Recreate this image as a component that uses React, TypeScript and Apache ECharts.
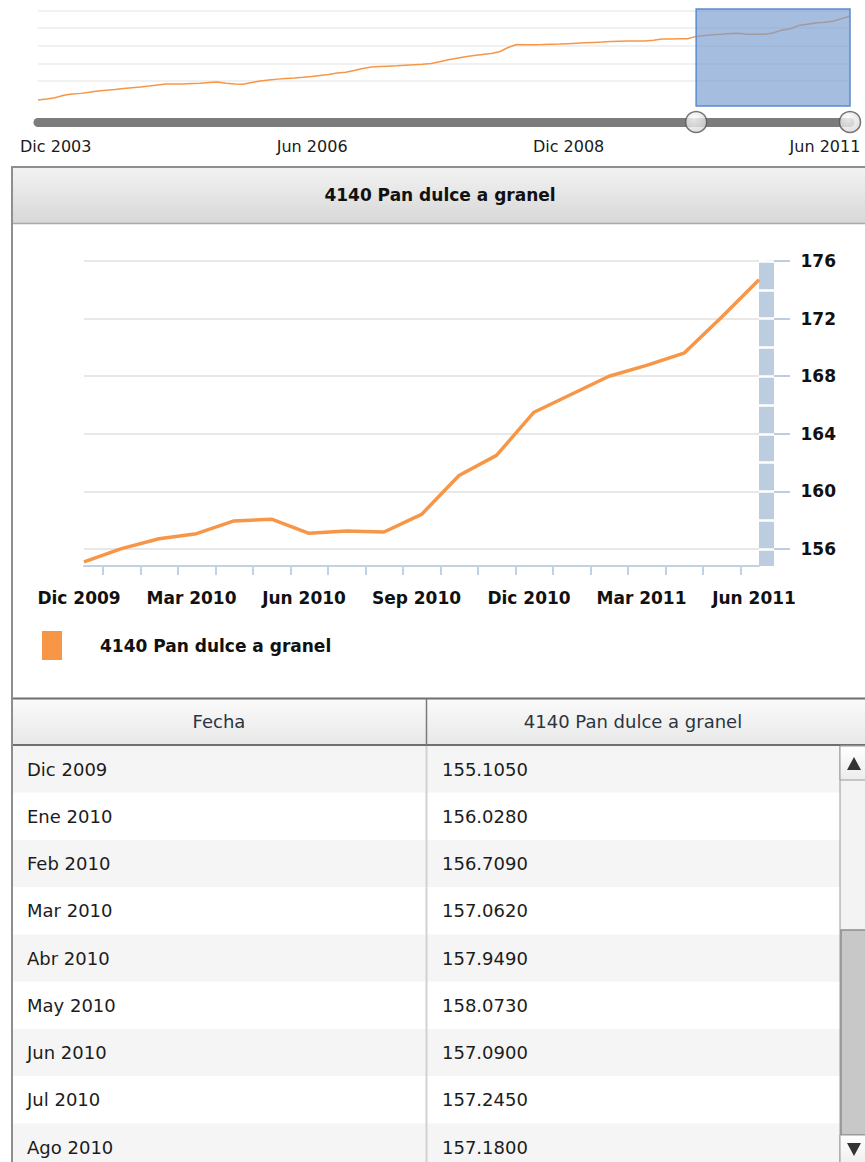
import React, { useEffect, useRef } from "react";
import * as echarts from "echarts";

const FONT = "'DejaVu Sans', Verdana, sans-serif";
const SERIES_NAME = "4140 Pan dulce a granel";
const TABLE_HEADERS = ["Fecha", "4140 Pan dulce a granel"];

// Detail chart: Dic 2009 – Jun 2011
const months = [
  "Dic 2009", "Ene 2010", "Feb 2010", "Mar 2010", "Abr 2010", "May 2010", "Jun 2010",
  "Jul 2010", "Ago 2010", "Sep 2010", "Oct 2010", "Nov 2010", "Dic 2010", "Ene 2011",
  "Feb 2011", "Mar 2011", "Abr 2011", "May 2011", "Jun 2011",
];
const values = [
  155.105, 156.028, 156.709, 157.062, 157.949, 158.073, 157.09, 157.245, 157.18,
  158.4, 161.1, 162.5, 165.5, 166.75, 168.0, 168.75, 169.6, 172.1, 174.7,
];
const yTicks = [156, 160, 164, 168, 172, 176];
const yBandTicks = [156, 158, 160, 162, 164, 166, 168, 170, 172, 174, 176];
const xLabelIdx = [0, 3, 6, 9, 12, 15, 18];

// Navigator history: Jul 2003 – Nov 2009 (continues with `values`)
const navEarly = [
  94.0, 94.9, 96.1, 98.5, 99.7, 100.3, 101.3, 102.6, 103.4, 104.0,
  104.9, 105.7, 106.4, 107.3, 108.3, 109.2, 109.3, 109.3, 109.7, 110.0,
  110.7, 111.2, 110.1, 109.2, 109.0, 110.7, 112.2, 113.2, 114.0, 114.6,
  115.1, 115.8, 116.6, 117.6, 118.5, 119.9, 120.6, 122.2, 124.3, 125.7,
  126.1, 126.5, 126.8, 127.3, 127.8, 128.3, 129.0, 130.7, 132.7, 134.1,
  135.5, 136.7, 137.7, 138.7, 140.3, 144.4, 147.3, 147.0, 147.0, 147.2,
  147.5, 147.7, 148.1, 148.5, 148.9, 149.3, 149.7, 150.2, 150.5, 150.6,
  150.6, 150.7, 151.4, 152.5, 152.7, 152.8, 152.9,
];
const navLabels = ["Dic 2003", "Jun 2006", "Dic 2008", "Jun 2011"];
const navLabelIdx = [5, 35, 65, 95];
const navGridValues = [112, 129, 146, 163, 180];
const visibleRows = 9;

export default function App() {
  const ref = useRef<HTMLDivElement>(null);

  useEffect(() => {
    if (!ref.current) return;
    const chart = echarts.init(ref.current, null, { renderer: "svg" });

    const navValues = [...navEarly, ...values];
    const navLast = navValues.length - 1;
    const selStart = navEarly.length;
    const xTickPos = months.slice(1).map((_, i) => i + 0.5);

    const grad = (a: string, b: string) => ({
      type: "linear", x: 0, y: 0, x2: 0, y2: 1,
      colorStops: [{ offset: 0, color: a }, { offset: 1, color: b }],
    });

    const rowH = 47.25;
    const bodyTop = 745.5;
    const elements: any[] = [];
    // panel header
    elements.push({ type: "rect", shape: { x: 13, y: 168, width: 870, height: 55 }, style: { fill: grad("#f2f2f2", "#d8d8d8") } });
    elements.push({ type: "line", shape: { x1: 12, y1: 223.5, x2: 870, y2: 223.5 }, style: { stroke: "#a9a9a9", lineWidth: 1.5 } });
    // table header
    elements.push({ type: "rect", shape: { x: 13, y: 698, width: 860, height: 47 }, style: { fill: grad("#fbfbfb", "#e8e8e8") } });
    // rows
    months.slice(0, visibleRows).forEach((m, r) => {
      const y0 = bodyTop + r * rowH;
      elements.push({ type: "rect", shape: { x: 13, y: y0, width: 827, height: rowH }, style: { fill: r % 2 === 0 ? "#f5f5f5" : "#ffffff" } });
      elements.push({ type: "text", x: 27, y: y0 + rowH / 2, style: { text: m, font: `18px ${FONT}`, fill: "#1c1c1c", align: "left", textAlign: "left", verticalAlign: "middle", textVerticalAlign: "middle" } });
      elements.push({ type: "text", x: 442, y: y0 + rowH / 2, style: { text: values[r].toFixed(4), font: `18px ${FONT}`, fill: "#1c1c1c", align: "left", textAlign: "left", verticalAlign: "middle", textVerticalAlign: "middle" } });
    });
    elements.push({ type: "line", shape: { x1: 12, y1: 698.5, x2: 870, y2: 698.5 }, style: { stroke: "#6f6f6f", lineWidth: 2 } });
    elements.push({ type: "line", shape: { x1: 12, y1: 745, x2: 870, y2: 745 }, style: { stroke: "#6f6f6f", lineWidth: 2 } });
    elements.push({ type: "line", shape: { x1: 426.5, y1: 699, x2: 426.5, y2: 745 }, style: { stroke: "#7a7a7a", lineWidth: 1.5 } });
    elements.push({ type: "line", shape: { x1: 426.5, y1: 746, x2: 426.5, y2: 1162 }, style: { stroke: "#d2d2d2", lineWidth: 2 } });
    TABLE_HEADERS.forEach((h, i) => {
      elements.push({ type: "text", x: i === 0 ? 219 : 633, y: 721.5, style: { text: h, font: `18px ${FONT}`, fill: "#2b3542", align: "center", textAlign: "center", verticalAlign: "middle", textVerticalAlign: "middle" } });
    });
    // scrollbar
    elements.push({ type: "rect", shape: { x: 840, y: 746, width: 30, height: 420 }, style: { fill: "#f3f3f3", stroke: "#9a9a9a", lineWidth: 1 } });
    elements.push({ type: "rect", shape: { x: 840, y: 746, width: 30, height: 34 }, style: { fill: grad("#ffffff", "#ececec"), stroke: "#9a9a9a", lineWidth: 1 } });
    elements.push({ type: "polygon", shape: { points: [[847, 770], [861, 770], [854, 757]] }, style: { fill: "#333" } });
    elements.push({ type: "rect", shape: { x: 841, y: 930, width: 30, height: 205 }, style: { fill: "#c8c8c8", stroke: "#8c8c8c", lineWidth: 1.5 } });
    elements.push({ type: "rect", shape: { x: 840, y: 1135, width: 30, height: 34 }, style: { fill: grad("#ffffff", "#ececec"), stroke: "#9a9a9a", lineWidth: 1 } });
    elements.push({ type: "polygon", shape: { points: [[847, 1143], [861, 1143], [854, 1156]] }, style: { fill: "#333" } });
    // panel border
    elements.push({ type: "rect", shape: { x: 12, y: 167, width: 880, height: 1010 }, style: { fill: "none", stroke: "#8e8e8e", lineWidth: 2 } });

    const labelBold = { fontFamily: FONT, fontWeight: "bold", fontSize: 17, color: "#111" };

    chart.setOption({
      animation: false,
      backgroundColor: "#ffffff",
      title: {
        text: SERIES_NAME, left: 440, top: 186, textAlign: "center", padding: 0,
        textStyle: labelBold,
      },
      legend: {
        data: [SERIES_NAME], left: 42, top: 631, padding: 0, itemWidth: 20, itemHeight: 29, icon: "rect",
        selectedMode: false, itemStyle: { borderWidth: 0 },
        textStyle: { ...labelBold, padding: [0, 0, 0, 33] },
      },
      graphic: { elements },
      grid: [
        { left: 38, right: 15, top: 9, height: 97, outerBoundsMode: "none" },
        { left: 38, right: 15, top: 100, height: 22, outerBoundsMode: "none" },
        { left: 84, right: 106, top: 261, height: 305, outerBoundsMode: "none" },
      ],
      xAxis: [
        { type: "value", gridIndex: 0, min: 0, max: navLast, show: false },
        {
          type: "value", gridIndex: 1, min: 0, max: navLast,
          axisLine: { show: true, onZero: false, lineStyle: { color: "#7c7c7c", width: 9, cap: "round" } },
          axisTick: { show: false, customValues: navLabelIdx },
          splitLine: { show: false },
          axisLabel: {
            customValues: navLabelIdx, margin: 16,
            formatter: (v: number) => navLabels[navLabelIdx.indexOf(Math.round(v))] ?? "",
            fontFamily: FONT, fontSize: 16, color: "#1a1a1a", padding: [0, 50, 0, 0],
          },
        },
        {
          type: "value", gridIndex: 2, min: 0, max: months.length - 1,
          axisLine: { show: true, onZero: false, lineStyle: { color: "#c3d2e2", width: 2 } },
          axisTick: { show: true, customValues: xTickPos, length: 9, lineStyle: { color: "#c3d2e2", width: 2 } },
          axisLabel: {
            customValues: xLabelIdx, margin: 23, padding: [0, 10, 0, 0],
            formatter: (v: number) => months[Math.round(v)] ?? "",
            ...labelBold,
          },
          splitLine: { show: false },
        },
      ],
      yAxis: [
        {
          type: "value", gridIndex: 0, min: 88.16, max: 181.43,
          axisLine: { show: false, onZero: false }, axisTick: { show: false, customValues: navGridValues },
          axisLabel: { show: false },
          splitLine: { show: true, lineStyle: { color: "#ececec", width: 1.5 } },
        },
        { type: "value", gridIndex: 1, min: 0, max: 1, show: false, axisLine: { onZero: false } },
        {
          type: "value", gridIndex: 2, position: "right", offset: 7.5, min: 154.82, max: 176,
          axisLine: { show: true, onZero: false, lineStyle: { color: "#bccddf", width: 15, cap: "butt" } },
          axisTick: { show: true, customValues: yTicks, length: 23.5, lineStyle: { color: "#bccddf", width: 2 } },
          axisLabel: { customValues: yTicks, margin: 34, ...labelBold },
          splitLine: { show: true, lineStyle: { color: "#e8e8e8", width: 2 } },
        },
        {
          type: "value", gridIndex: 2, position: "right", offset: 15, min: 154.82, max: 176, z: 5,
          axisLine: { show: false, onZero: false },
          axisTick: { show: true, inside: true, customValues: yBandTicks, length: 15, lineStyle: { color: "#ffffff", width: 2.5 } },
          axisLabel: { show: false },
          splitLine: { show: false },
        },
      ],
      series: [
        {
          name: "navegador", type: "line", xAxisIndex: 0, yAxisIndex: 0,
          data: navValues.map((v, i) => [i, v]), symbol: "none", silent: true,
          lineStyle: { color: "#f79646", width: 1.5 }, itemStyle: { color: "#f79646" },
          markArea: {
            silent: true, z: 5,
            itemStyle: { color: "rgba(118,156,208,0.66)", borderColor: "#5b8bd0", borderWidth: 1.5 },
            data: [[{ xAxis: selStart }, { xAxis: navLast }]],
          },
        },
        {
          name: "rango", type: "scatter", xAxisIndex: 1, yAxisIndex: 1, clip: false, silent: true,
          data: [[selStart, 0], [navLast, 0]], symbol: "circle", symbolSize: 21,
          itemStyle: {
            color: { type: "radial", x: 0.4, y: 0.35, r: 0.7, colorStops: [{ offset: 0, color: "#ffffff" }, { offset: 1, color: "#d4d4d4" }] },
            borderColor: "#555", borderWidth: 1.5,
          },
        },
        {
          name: SERIES_NAME, type: "line", xAxisIndex: 2, yAxisIndex: 2,
          data: values.map((v, i) => [i, v]), symbol: "none",
          lineStyle: { color: "#f79646", width: 3.5 }, itemStyle: { color: "#f79646" },
        },
      ],
    });

    return () => chart.dispose();
  }, []);

  return <div ref={ref} style={{ position: "fixed", left: 0, top: 0, width: 865, height: 1162 }} />;
}
